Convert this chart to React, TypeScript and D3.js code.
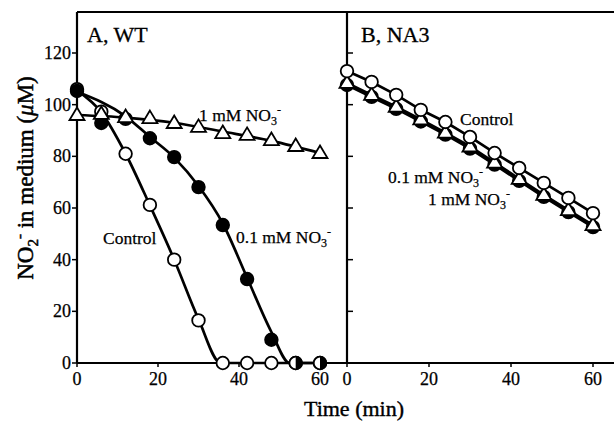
import React from 'react';
import * as d3 from 'd3';

// ---------- data ----------
const times = [0, 6, 12, 18, 24, 30, 36, 42, 48, 54, 60];

// Panel A, WT
const aControl = [106, 97.3, 81, 61.2, 40, 16.5, 0, 0, 0, 0, 0];
const aLow = [105.3, 92.9, 94.5, 87, 79.7, 68.1, 53.4, 32.5, 9, 0, 0];
const aHigh = [96, 96.4, 95.2, 94.8, 92.9, 91.4, 89, 88.3, 86.3, 84, 81.3];
// fitted curves drawn in panel A
const aControlFitT = [0, 6, 12, 18, 24, 30, 35.5, 60];
const aControlFitV = [105.5, 97, 81, 61, 40, 17, 0, 0];
const aLowFitT = [0, 12, 18, 24, 30, 36, 42, 48, 52.5, 60];
const aLowFitV = [105, 95.5, 87.5, 79.5, 68.5, 54, 33, 12, 0, 0];
const aHighFitT = [0, 12, 24, 36, 48, 60];
const aHighFitV = [96, 95, 93, 89.6, 86, 81.3];

// Panel B, NA3
const bControl = [113, 108.8, 103.8, 98, 93.3, 87.5, 81.3, 75.5, 69.7, 63.9, 58];
const bHigh = [108.4, 103.8, 99.2, 94.3, 89.2, 83.8, 77.6, 71.3, 65.1, 59.2, 53.4];
const bLow = [107.6, 103, 98.4, 93.5, 88.4, 83, 76.8, 70.5, 64.3, 58.4, 52.6];

const yTicks = [0, 20, 40, 60, 80, 100, 120];
const xTicks = [0, 20, 40, 60];

const FONT = '"Liberation Serif", "Times New Roman", Times, serif';

const y = d3.scaleLinear().domain([0, 120]).range([363, 53]);
const xA = d3.scaleLinear().domain([0, 60]).range([77, 320]);
const xB = d3.scaleLinear().domain([0, 60]).range([347, 593]);

const TOP = 12;
const BOTTOM = 363;
const LEFT_A = 77;
const LEFT_B = 347;
const RIGHT = 614;

function linePath(xs: number[], vs: number[], xs_: d3.ScaleLinear<number, number>, curve: any) {
  const pts = xs.map((t, i) => [t, vs[i]] as [number, number]);
  return d3.line<[number, number]>()
    .x(d => xs_(d[0]))
    .y(d => y(d[1]))
    .curve(curve)(pts) as string;
}

function Tri({ cx, cy }: { cx: number; cy: number }) {
  const p = `M${cx},${cy - 7.5} L${cx + 7.5},${cy + 5} L${cx - 7.5},${cy + 5} Z`;
  return <path d={p} fill="#fff" stroke="#000" strokeWidth={1.8} strokeLinejoin="miter" />;
}

function OpenC({ cx, cy }: { cx: number; cy: number }) {
  return <circle cx={cx} cy={cy} r={6.3} fill="#fff" stroke="#000" strokeWidth={1.8} />;
}

function FillC({ cx, cy }: { cx: number; cy: number }) {
  return <circle cx={cx} cy={cy} r={6.3} fill="#000" stroke="#000" strokeWidth={1.8} />;
}

function HalfC({ cx, cy }: { cx: number; cy: number }) {
  const r = 6.3;
  return (
    <g>
      <circle cx={cx} cy={cy} r={r} fill="#fff" stroke="#000" strokeWidth={1.8} />
      <path d={`M${cx},${cy - r} A${r},${r} 0 0 1 ${cx},${cy + r} Z`} fill="#000" />
    </g>
  );
}

function SeriesLabel({ x, yb, text, no3 }: { x: number; yb: number; text: string; no3?: boolean }) {
  const fs = 17.5;
  return (
    <text x={x} y={yb} fontSize={fs} fontFamily={FONT} stroke="#000" strokeWidth={0.25}>
      {text}
      {no3 ? (
        <>
          <tspan>NO</tspan>
          <tspan dy={4} fontSize={12}>3</tspan>
          <tspan dy={-11} fontSize={12}>-</tspan>
        </>
      ) : null}
    </text>
  );
}

export default function App() {
  const lw = 2.7;
  return (
    <svg width={614} height={425} style={{ position: 'absolute', left: 0, top: 0, background: '#fff' }}>
      <rect x={0} y={0} width={614} height={425} fill="#fff" />

      {/* ---------- Panel A lines ---------- */}
      <path d={linePath(aHighFitT, aHighFitV, xA, d3.curveMonotoneX)} fill="none" stroke="#000" strokeWidth={lw} />
      <path d={linePath(aControlFitT, aControlFitV, xA, d3.curveMonotoneX)} fill="none" stroke="#000" strokeWidth={lw} />
      <path d={linePath(aLowFitT, aLowFitV, xA, d3.curveMonotoneX)} fill="none" stroke="#000" strokeWidth={lw} />

      {/* ---------- Panel B lines ---------- */}
      <path d={linePath(times, bControl, xB, d3.curveLinear)} fill="none" stroke="#000" strokeWidth={lw} />
      <path d={linePath(times, bHigh, xB, d3.curveLinear)} fill="none" stroke="#000" strokeWidth={lw} />
      <path d={linePath(times, bLow, xB, d3.curveLinear)} fill="none" stroke="#000" strokeWidth={lw} />

      {/* ---------- frame ---------- */}
      <g stroke="#000" strokeWidth={2.2} fill="none">
        <line x1={LEFT_A} x2={RIGHT} y1={TOP} y2={TOP} />
        <line x1={LEFT_A} x2={RIGHT} y1={BOTTOM} y2={BOTTOM} />
        <line x1={LEFT_A} x2={LEFT_A} y1={TOP} y2={BOTTOM} />
        <line x1={LEFT_B} x2={LEFT_B} y1={TOP} y2={BOTTOM} />
      </g>

      {/* y ticks panel A (outward) and panel B (inward) */}
      <g stroke="#000" strokeWidth={1.5}>
        {yTicks.map(v => (
          <g key={'yt' + v}>
            <line x1={LEFT_A - 5} x2={LEFT_A} y1={y(v)} y2={y(v)} />
            <line x1={LEFT_B} x2={LEFT_B + 6} y1={y(v)} y2={y(v)} />
          </g>
        ))}
        {xTicks.map(v => (
          <g key={'xt' + v}>
            <line x1={xA(v)} x2={xA(v)} y1={BOTTOM} y2={BOTTOM + 4} />
            <line x1={xB(v)} x2={xB(v)} y1={BOTTOM} y2={BOTTOM + 4} />
          </g>
        ))}
      </g>

      {/* tick labels */}
      <g fontFamily={FONT} fontSize={18} fill="#000" stroke="#000" strokeWidth={0.25}>
        {yTicks.map(v => (
          <text key={'yl' + v} x={LEFT_A - 6} y={y(v) + 6} textAnchor="end">{v}</text>
        ))}
        {xTicks.map(v => (
          <text key={'xla' + v} x={xA(v)} y={385} textAnchor="middle">{v}</text>
        ))}
        {xTicks.map(v => (
          <text key={'xlb' + v} x={xB(v)} y={385} textAnchor="middle">{v}</text>
        ))}
      </g>

      {/* ---------- Panel A markers ---------- */}
      {times.map((t, i) => <OpenC key={'ac' + i} cx={xA(t)} cy={y(aControl[i])} />)}
      {times.map((t, i) =>
        aLow[i] === aControl[i]
          ? <HalfC key={'al' + i} cx={xA(t)} cy={y(aLow[i])} />
          : <FillC key={'al' + i} cx={xA(t)} cy={y(aLow[i])} />
      )}
      {times.map((t, i) => <Tri key={'ah' + i} cx={xA(t)} cy={y(aHigh[i])} />)}

      {/* ---------- Panel B markers ---------- */}
      {times.map((t, i) => <FillC key={'bl' + i} cx={xB(t)} cy={y(bLow[i])} />)}
      {times.map((t, i) => <Tri key={'bh' + i} cx={xB(t)} cy={y(bHigh[i])} />)}
      {times.map((t, i) => <OpenC key={'bc' + i} cx={xB(t)} cy={y(bControl[i])} />)}

      {/* ---------- labels ---------- */}
      <text x={87} y={42} fontFamily={FONT} fontSize={22} stroke="#000" strokeWidth={0.3}>A, WT</text>
      <text x={361} y={42} fontFamily={FONT} fontSize={22} stroke="#000" strokeWidth={0.3}>B, NA3</text>

      <SeriesLabel x={199} yb={121} text="1 mM " no3 />
      <SeriesLabel x={103} yb={244} text="Control" />
      <SeriesLabel x={236} yb={243} text="0.1 mM " no3 />

      <SeriesLabel x={460} yb={125} text="Control" />
      <SeriesLabel x={388} yb={183} text="0.1 mM " no3 />
      <SeriesLabel x={428} yb={205} text="1 mM " no3 />

      {/* axis titles */}
      <text x={354} y={416} textAnchor="middle" fontFamily={FONT} fontSize={22} stroke="#000" strokeWidth={0.4}>Time (min)</text>
      <text transform="translate(33,178) rotate(-90)" textAnchor="middle" fontFamily={FONT} fontSize={23} stroke="#000" strokeWidth={0.5}>
        NO<tspan dy={5} fontSize={15}>2</tspan><tspan dy={-14} fontSize={15}>-</tspan><tspan dy={9}> in medium (</tspan><tspan fontStyle="italic">μ</tspan>M)
      </text>
    </svg>
  );
}
